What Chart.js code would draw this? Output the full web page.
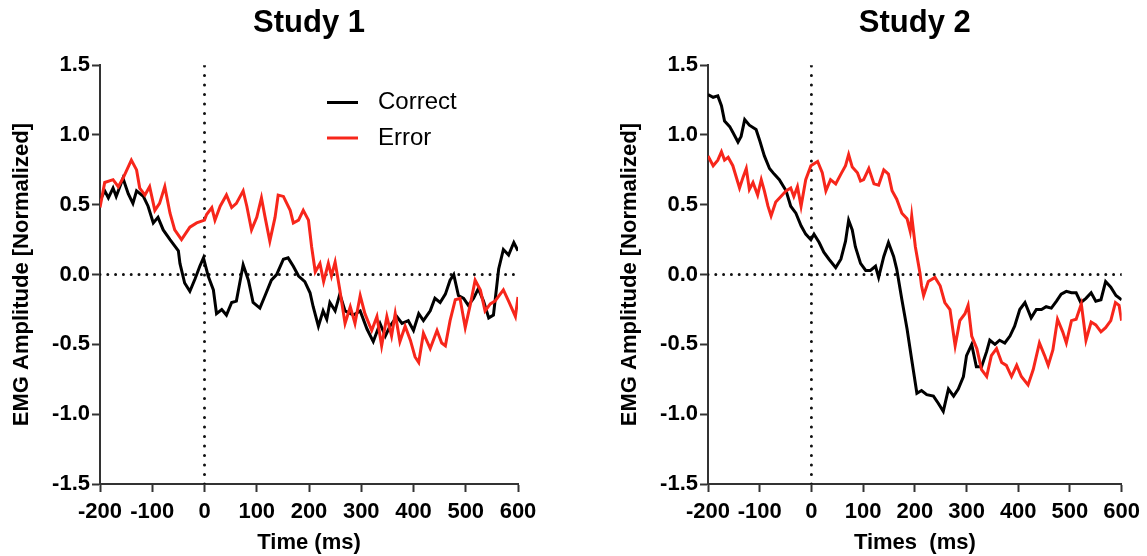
<!DOCTYPE html>
<html>
<head>
<meta charset="utf-8">
<script src="https://cdn.jsdelivr.net/npm/chart.js@4.4.1/dist/chart.umd.min.js"></script>
<style>
html,body{margin:0;padding:0;background:#fff;}
#wrap{position:relative;width:1147px;height:556px;}
.box{position:absolute;top:0;height:556px;}
</style>
</head>
<body>
<div id="wrap">
  <div class="box" style="left:0;width:560px"><canvas id="c1" width="560" height="556"></canvas></div>
  <div class="box" style="left:560px;width:587px"><canvas id="c2" width="587" height="556"></canvas></div>
</div>
<script>
// ticks
const xTicks = [-200, -100, 0, 100, 200, 300, 400, 500, 600];
const yTicks = [-1.5, -1.0, -0.5, 0.0, 0.5, 1.0, 1.5];

// [time ms, amplitude]
const study1Correct = [[-200,0.53],[-191,0.60],[-184,0.55],[-175,0.62],[-169,0.56],[-156,0.69],[-146,0.58],[-137,0.51],[-130,0.60],[-117,0.56],[-108,0.49],[-98,0.37],[-89,0.41],[-79,0.32],[-66,0.25],[-50,0.17],[-47,0.08],[-38,-0.06],[-28,-0.12],[-18,-0.03],[-9,0.06],[-2,0.12],[7,-0.01],[17,-0.11],[23,-0.28],[33,-0.25],[42,-0.29],[52,-0.20],[61,-0.19],[74,0.07],[84,-0.04],[93,-0.20],[106,-0.24],[116,-0.15],[128,-0.04],[138,0.00],[151,0.11],[160,0.12],[170,0.06],[180,-0.01],[192,-0.05],[202,-0.13],[208,-0.23],[218,-0.37],[227,-0.26],[234,-0.32],[240,-0.20],[250,-0.26],[259,-0.14],[269,-0.26],[285,-0.29],[298,-0.26],[311,-0.39],[323,-0.48],[336,-0.35],[346,-0.44],[355,-0.37],[368,-0.30],[378,-0.35],[390,-0.33],[400,-0.40],[410,-0.28],[419,-0.33],[432,-0.26],[441,-0.17],[451,-0.20],[461,-0.14],[470,-0.04],[477,0.00],[486,-0.15],[496,-0.17],[505,-0.22],[515,-0.17],[524,-0.10],[534,-0.19],[544,-0.31],[553,-0.29],[563,0.04],[572,0.18],[582,0.14],[592,0.23],[600,0.17]];
const study1Error = [[-200,0.48],[-191,0.66],[-175,0.68],[-165,0.63],[-156,0.69],[-140,0.82],[-130,0.75],[-124,0.62],[-114,0.57],[-105,0.63],[-95,0.46],[-86,0.51],[-76,0.63],[-66,0.44],[-57,0.32],[-44,0.25],[-28,0.34],[-15,0.37],[0,0.39],[4,0.43],[14,0.48],[20,0.39],[30,0.49],[42,0.57],[52,0.48],[61,0.51],[74,0.60],[81,0.49],[90,0.32],[100,0.41],[109,0.55],[116,0.41],[125,0.24],[135,0.41],[141,0.57],[151,0.56],[164,0.46],[170,0.37],[180,0.39],[189,0.46],[199,0.39],[205,0.20],[212,0.02],[221,0.08],[228,-0.05],[237,0.08],[243,-0.01],[250,0.09],[259,-0.11],[269,-0.35],[279,-0.23],[288,-0.35],[298,-0.15],[307,-0.28],[320,-0.40],[330,-0.30],[339,-0.51],[349,-0.30],[358,-0.44],[365,-0.28],[374,-0.48],[384,-0.37],[394,-0.47],[403,-0.59],[410,-0.63],[419,-0.42],[432,-0.53],[445,-0.40],[454,-0.49],[461,-0.51],[470,-0.33],[480,-0.18],[489,-0.17],[499,-0.38],[509,-0.21],[518,-0.04],[528,-0.11],[537,-0.26],[547,-0.21],[556,-0.19],[572,-0.11],[582,-0.19],[595,-0.30],[600,-0.16]];
const study2Correct = [[-200,1.29],[-190,1.27],[-181,1.28],[-174,1.21],[-168,1.10],[-158,1.06],[-152,1.02],[-142,0.95],[-136,0.99],[-129,1.11],[-120,1.07],[-107,1.04],[-100,0.96],[-91,0.85],[-81,0.76],[-72,0.72],[-62,0.68],[-49,0.60],[-40,0.49],[-30,0.44],[-20,0.35],[-11,0.29],[-1,0.25],[5,0.29],[15,0.23],[24,0.16],[34,0.11],[47,0.05],[57,0.11],[66,0.24],[72,0.39],[79,0.32],[85,0.20],[95,0.08],[105,0.03],[114,0.03],[124,0.06],[130,-0.02],[140,0.13],[149,0.23],[159,0.13],[165,0.04],[175,-0.18],[185,-0.39],[194,-0.61],[204,-0.85],[213,-0.83],[223,-0.86],[236,-0.87],[245,-0.92],[255,-0.98],[265,-0.82],[275,-0.87],[284,-0.82],[294,-0.73],[300,-0.58],[310,-0.50],[319,-0.66],[329,-0.66],[339,-0.55],[345,-0.47],[355,-0.50],[364,-0.47],[374,-0.49],[384,-0.44],[393,-0.37],[403,-0.25],[413,-0.20],[425,-0.31],[435,-0.25],[445,-0.25],[454,-0.23],[464,-0.24],[474,-0.19],[483,-0.14],[493,-0.12],[503,-0.13],[512,-0.13],[521,-0.20],[531,-0.17],[541,-0.13],[550,-0.19],[560,-0.18],[569,-0.05],[579,-0.09],[589,-0.15],[600,-0.18]];
const study2Error = [[-200,0.85],[-190,0.78],[-181,0.82],[-174,0.88],[-168,0.82],[-161,0.84],[-152,0.78],[-139,0.62],[-132,0.70],[-126,0.76],[-120,0.61],[-113,0.66],[-104,0.57],[-97,0.68],[-91,0.60],[-84,0.49],[-78,0.42],[-69,0.52],[-59,0.56],[-49,0.60],[-40,0.62],[-34,0.56],[-27,0.63],[-20,0.49],[-11,0.68],[-1,0.78],[12,0.81],[21,0.73],[28,0.60],[37,0.68],[47,0.65],[57,0.72],[66,0.78],[72,0.86],[79,0.77],[89,0.73],[95,0.67],[101,0.68],[111,0.76],[121,0.65],[130,0.64],[140,0.75],[149,0.72],[156,0.60],[165,0.54],[175,0.44],[185,0.40],[191,0.31],[194,0.42],[201,0.20],[210,0.01],[213,-0.08],[217,-0.15],[226,-0.05],[239,-0.02],[249,-0.08],[258,-0.20],[268,-0.25],[278,-0.51],[287,-0.33],[297,-0.28],[303,-0.22],[310,-0.44],[320,-0.53],[329,-0.68],[339,-0.73],[348,-0.58],[358,-0.53],[368,-0.63],[377,-0.65],[387,-0.73],[397,-0.65],[406,-0.73],[419,-0.79],[429,-0.68],[441,-0.49],[451,-0.58],[458,-0.65],[467,-0.54],[476,-0.32],[486,-0.41],[493,-0.49],[503,-0.33],[512,-0.32],[522,-0.21],[531,-0.47],[541,-0.34],[550,-0.36],[560,-0.41],[569,-0.38],[579,-0.33],[588,-0.20],[595,-0.22],[600,-0.33]];

const FONT = "'Liberation Sans', Arial, Helvetica, sans-serif";
const AXIS = '#333';
const RED = '#f7261b';

// legend drawn inside the plot, like the original
const inlineLegend = {
  id: 'inlineLegend',
  afterDraw(chart, args, o) {
    if (!o.show) return;
    const ctx = chart.ctx;
    const items = chart.data.datasets.filter(d => d.label);
    ctx.save();
    ctx.font = '24px ' + FONT;
    ctx.textBaseline = 'middle';
    ctx.fillStyle = '#000';
    items.forEach((d, i) => {
      const y = o.y + i * o.gap;
      ctx.strokeStyle = d.borderColor;
      ctx.lineWidth = 3;
      ctx.beginPath();
      ctx.moveTo(o.x, y);
      ctx.lineTo(o.x + 31, y);
      ctx.stroke();
      ctx.fillText(d.label, o.x + 51, y);
    });
    ctx.restore();
  }
};

const pts = arr => arr.map(p => ({x: p[0], y: p[1]}));

function dotted(data, gap) {
  return {data, borderColor: '#111', borderWidth: 3, borderDash: [0, gap], borderCapStyle: 'round',
          pointRadius: 0, order: 3};
}

function makeChart(id, title, xTitle, correct, error, padLeft, padRight, legend) {
  const tickFont = {family: FONT, size: 22, weight: 'bold'};
  return new Chart(document.getElementById(id), {
    type: 'line',
    data: {
      datasets: [
        {label: 'Correct', data: pts(correct), borderColor: '#000', borderWidth: 3, pointRadius: 0, order: 2},
        {label: 'Error', data: pts(error), borderColor: RED, borderWidth: 3, pointRadius: 0, order: 1},
        dotted([{x: -200, y: 0}, {x: 600, y: 0}], 7.8),
        dotted([{x: 0, y: -1.5}, {x: 0, y: 1.5}], 9.5)
      ]
    },
    options: {
      responsive: false,
      animation: false,
      devicePixelRatio: 1,
      layout: {padding: {left: padLeft, right: padRight, top: 0, bottom: 0}},
      elements: {line: {tension: 0}},
      plugins: {
        legend: {display: false},
        tooltip: {enabled: false},
        title: {display: true, text: title, fullSize: false, color: '#000',
                font: {family: FONT, size: 31, weight: 'bold'}, padding: {top: 5, bottom: 23}},
        inlineLegend: legend
      },
      scales: {
        x: {
          type: 'linear', min: -200, max: 600,
          afterBuildTicks: s => { s.ticks = xTicks.map(v => ({value: v})); },
          afterFit: s => { s.height = 72; },
          ticks: {color: '#000', font: tickFont, padding: 7, maxRotation: 0},
          grid: {drawOnChartArea: false, tickLength: 8, tickWidth: 2, tickColor: AXIS},
          border: {color: AXIS, width: 2},
          title: {display: true, text: xTitle, color: '#000', font: tickFont, padding: {top: 0, bottom: 0}}
        },
        y: {
          type: 'linear', min: -1.5, max: 1.5,
          afterBuildTicks: s => { s.ticks = yTicks.map(v => ({value: v})); },
          afterFit: s => { s.width = 100; },
          ticks: {color: '#000', font: tickFont, padding: 2, callback: v => v.toFixed(1)},
          grid: {drawOnChartArea: false, tickLength: 8, tickWidth: 2, tickColor: AXIS},
          border: {color: AXIS, width: 2},
          title: {display: true, text: 'EMG Amplitude [Normalized]', color: '#000', font: tickFont,
                  padding: {top: 9, bottom: 0}}
        }
      }
    },
    plugins: [inlineLegend]
  });
}

makeChart('c1', 'Study 1', 'Time (ms)', study1Correct, study1Error, 0, 42,
          {show: true, x: 327, y: 102.5, gap: 35.5});
makeChart('c2', 'Study 2', 'Times  (ms)', study2Correct, study2Error, 48, 23, {show: false});
</script>
</body>
</html>
